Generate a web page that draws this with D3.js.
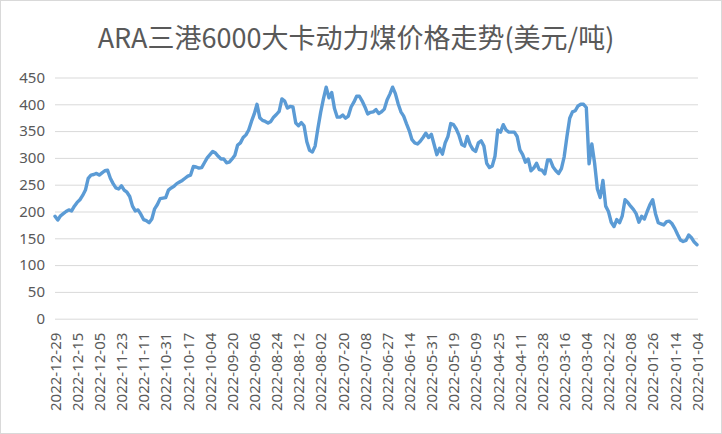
<!DOCTYPE html>
<html>
<head>
<meta charset="utf-8">
<script src="https://cdn.jsdelivr.net/npm/d3@7"></script>
<style>
  html, body { margin: 0; padding: 0; background: #fff; }
</style>
</head>
<body>
<div id="chart"></div>
<script>
const title = 'ARA三港6000大卡动力煤价格走势(美元/吨)';

// axis labels, newest first as on the picture (one label every 8 points)
const dateLabels = [
  '2022-12-29', '2022-12-15', '2022-12-05', '2022-11-23', '2022-11-11',
  '2022-10-31', '2022-10-17', '2022-10-04', '2022-09-20', '2022-09-06',
  '2022-08-24', '2022-08-12', '2022-08-02', '2022-07-20', '2022-07-08',
  '2022-06-27', '2022-06-14', '2022-05-31', '2022-05-19', '2022-05-09',
  '2022-04-25', '2022-04-11', '2022-03-28', '2022-03-16', '2022-03-04',
  '2022-02-22', '2022-02-08', '2022-01-26', '2022-01-14', '2022-01-04',
];
const labelStep = 8;

const yTicks = [0, 50, 100, 150, 200, 250, 300, 350, 400, 450];

// price, USD/t, left to right
const prices = [
  191, 184, 192, 196, 200, 203, 201, 210, 217, 222,
  230, 240, 262, 268, 269, 271, 268, 272, 276, 277,
  262, 252, 244, 242, 248, 240, 236, 228, 210, 201,
  203, 195, 185, 183, 179, 186, 205, 213, 224,
  225, 226, 240, 244, 247, 252, 255, 258, 262, 266,
  268, 284, 283, 281, 282, 291, 300, 306, 312, 309,
  303, 298, 298, 291, 292, 298, 305, 324, 328, 338,
  343, 352, 368, 382, 400, 375, 370, 368, 365,
  368, 376, 381, 387, 410, 406, 393, 396, 395, 365,
  360, 366, 360, 330, 314, 311, 322, 355, 385, 410,
  432, 412, 422, 392, 376, 376, 380, 374, 378, 395,
  404, 415, 415, 406, 395, 382, 385, 386, 390, 383,
  386, 391, 408, 419, 432, 420, 401, 386, 378, 364,
  351, 334, 328, 326, 331, 338, 346, 338, 344, 325,
  306, 318, 307, 328, 340, 364, 362, 354, 342, 325,
  322, 340, 325, 316, 312, 328, 332, 322, 290, 282,
  285, 303, 352, 348, 362, 352, 348, 348, 348, 340,
  315, 306, 292, 298, 276, 281, 290, 278, 277, 270,
  296, 296, 283, 276, 271, 280, 302, 340, 374, 386,
  388, 397, 400, 400, 394, 289, 326, 290, 242,
  226, 258, 210, 200, 180, 172, 185, 179, 192, 222,
  217, 210, 204, 196, 180, 191, 186, 200, 213, 222,
  196, 179, 177, 175, 181, 182, 177, 168, 157, 147,
  144, 146, 156, 151, 143, 138,
];

const width = 722;
const height = 434;
const margin = { top: 77.5, right: 24, bottom: 115.3, left: 55 };
const textColor = '#595959';
const gridColor = '#d9d9d9';
const font = '"Noto Sans", "Noto Sans CJK SC", sans-serif';

const svg = d3.select('#chart').append('svg')
  .attr('width', width)
  .attr('height', height);

svg.append('rect')
  .attr('x', 0.5)
  .attr('y', 0.5)
  .attr('width', width - 1)
  .attr('height', height - 1)
  .attr('fill', '#fff')
  .attr('stroke', gridColor);

const x = d3.scaleLinear()
  .domain([0, prices.length - 1])
  .range([margin.left, width - 25]);

const y = d3.scaleLinear()
  .domain([0, 450])
  .range([height - margin.bottom, margin.top]);

// gridlines + y labels
const yAxis = svg.append('g')
  .attr('transform', `translate(${margin.left},0)`)
  .call(d3.axisLeft(y)
    .tickValues(yTicks)
    .tickSize(-(width - margin.left - margin.right))
    .tickPadding(10));

yAxis.select('.domain').remove();
yAxis.selectAll('.tick line')
  .attr('stroke', gridColor)
  .attr('stroke-width', 1);
yAxis.selectAll('.tick text')
  .attr('fill', textColor)
  .style('font-family', font)
  .style('font-size', '15px');

// x labels, rotated
const xAxis = svg.append('g')
  .attr('transform', `translate(0,${height - margin.bottom})`)
  .call(d3.axisBottom(x)
    .tickValues(d3.range(0, prices.length, labelStep))
    .tickFormat((d, i) => dateLabels[i])
    .tickSize(0));

xAxis.select('.domain').remove();
xAxis.selectAll('.tick text')
  .attr('fill', textColor)
  .style('font-family', font)
  .style('font-size', '15px')
  .attr('text-anchor', 'end')
  .attr('dy', '0.35em')
  .attr('transform', 'translate(0,14) rotate(-90)')
  .attr('x', 0)
  .attr('y', 0);

const line = d3.line()
  .x((d, i) => x(i))
  .y(d => y(d));

svg.append('path')
  .datum(prices)
  .attr('fill', 'none')
  .attr('stroke', '#5b9bd5')
  .attr('stroke-width', 3.4)
  .attr('stroke-linejoin', 'round')
  .attr('stroke-linecap', 'round')
  .attr('d', line);

svg.append('text')
  .attr('x', width / 2 - 5)
  .attr('y', 48)
  .attr('text-anchor', 'middle')
  .attr('fill', textColor)
  .style('font-family', '"Noto Sans CJK SC", "Noto Sans", sans-serif')
  .style('font-size', '27px')
  .text(title);
</script>
</body>
</html>
